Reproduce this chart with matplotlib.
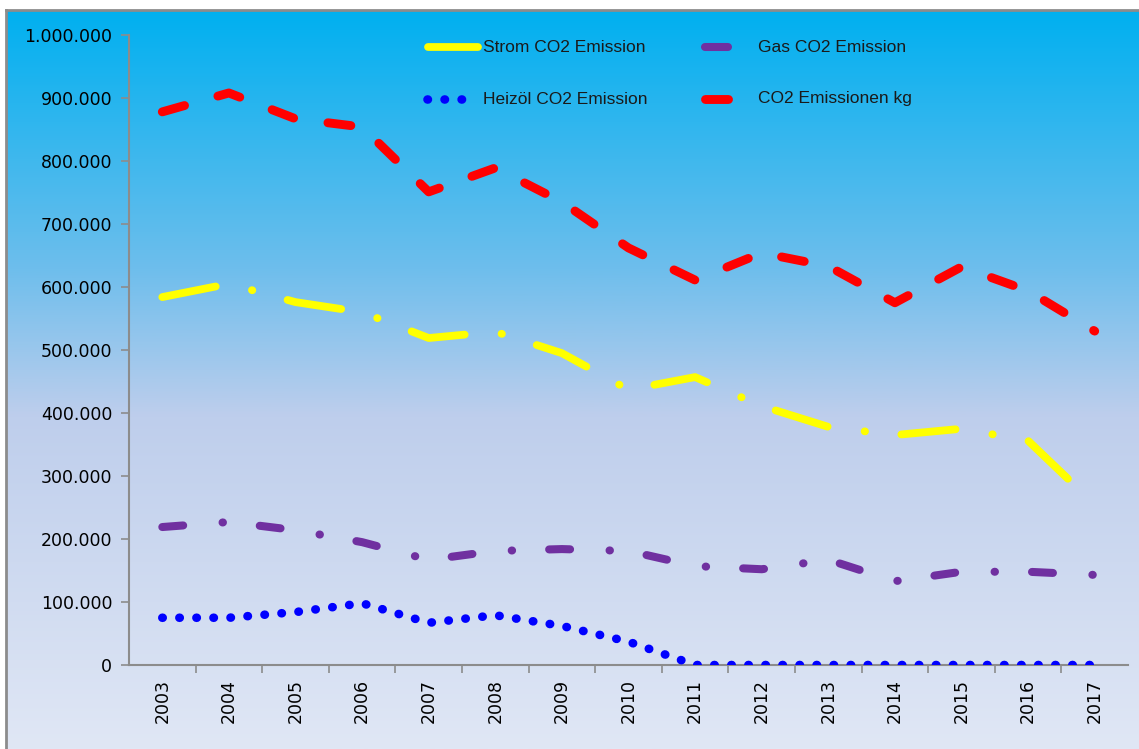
import matplotlib.pyplot as plt
import numpy as np
from matplotlib.colors import LinearSegmentedColormap
from matplotlib.lines import Line2D
from matplotlib.ticker import FuncFormatter, FixedLocator, NullFormatter

plt.rcParams['font.family'] = ['DejaVu Sans']

years = ['2003', '2004', '2005', '2006', '2007', '2008', '2009', '2010',
         '2011', '2012', '2013', '2014', '2015', '2016', '2017']

strom = [584000, 605000, 576000, 560000, 519000, 529000, 495000, 437000,
         457000, 411000, 378000, 365000, 375000, 356000, 255000]
gas = [219000, 227000, 214000, 195000, 167000, 181000, 184000, 181000,
       157000, 152000, 167000, 133000, 148000, 148000, 143000]
heizoel = [75000, 75000, 84000, 98000, 67000, 79000, 62000, 37000,
           0, 0, 0, 0, 0, 0, 0]
gesamt = [878000, 908000, 867000, 854000, 751000, 789000, 735000, 662000,
          611000, 654000, 633000, 575000, 632000, 594000, 530000]

labels = ['Strom CO2 Emission', 'Gas CO2 Emission',
          'Heizöl CO2 Emission', 'CO2 Emissionen kg']

W, H = 1139, 749
fig = plt.figure(figsize=(W / 100, H / 100), dpi=100)
fig.patch.set_facecolor('white')

# Hintergrund mit Farbverlauf (oben kräftig blau, unten hell)
bg = fig.add_axes([6 / W, 0, 1 - 6 / W, (H - 10) / H], zorder=0)
cmap = LinearSegmentedColormap.from_list('bg', [
    (0.0, (0 / 255, 176 / 255, 240 / 255)),
    (0.35, (110 / 255, 190 / 255, 236 / 255)),
    (0.55, (190 / 255, 206 / 255, 236 / 255)),
    (1.0, (224 / 255, 231 / 255, 245 / 255))])
grad = np.linspace(0, 1, 256).reshape(-1, 1)
bg.imshow(grad, aspect='auto', cmap=cmap, extent=[0, 1, 0, 1], origin='upper')
bg.set_xlim(0, 1)
bg.set_ylim(0, 1)
bg.axis('off')
fig.add_artist(Line2D([6 / W, 6 / W], [0, (H - 10) / H], color='#8c8c8c', lw=2))
fig.add_artist(Line2D([6 / W, 1], [(H - 10) / H, (H - 10) / H], color='#8c8c8c', lw=2))

ax = fig.add_axes([129 / W, (H - 665) / H, 999 / W, 630 / H], zorder=1)
ax.patch.set_alpha(0)

x = np.arange(len(years))

# Linien: Dash-Muster in Vielfachen der Linienbreite
ax.plot(x, strom, color='#ffff00', lw=5.6, dash_capstyle='round',
        solid_capstyle='round', dashes=(7.0, 4.8, 0.05, 4.7), zorder=3)
ax.plot(x, gas, color='#7030a0', lw=5.8, dash_capstyle='round',
        dashes=(2.6, 4.9, 0.05, 4.6), zorder=3)
ax.plot(x, heizoel, color='#0000ff', lw=6.2, dash_capstyle='round',
        dashes=(0.05, 1.93), zorder=3)
ax.plot(x, gesamt, color='#ff0000', lw=6.4, dash_capstyle='round',
        dashes=(2.6, 3.9), zorder=3)

ax.set_xlim(-0.5, len(years) - 0.5)
ax.set_ylim(0, 1000000)
ax.set_yticks(np.arange(0, 1000001, 100000))
ax.yaxis.set_major_formatter(FuncFormatter(
    lambda v, p: '0' if v == 0 else f'{int(v):,}'.replace(',', '.')))

ax.set_xticks(x)
ax.set_xticklabels(years, rotation=90, fontsize=12.5)
ax.xaxis.set_minor_locator(FixedLocator(np.arange(0.5, len(years) - 0.5, 1)))
ax.xaxis.set_minor_formatter(NullFormatter())
ax.tick_params(axis='x', which='major', length=0, pad=10)
ax.tick_params(axis='x', which='minor', length=6, color='#8c8c8c', width=1.2)
ax.tick_params(axis='y', length=6, color='#8c8c8c', width=1.2,
               labelsize=12.5, pad=6)

for s in ['top', 'right']:
    ax.spines[s].set_visible(False)
for s in ['left', 'bottom']:
    ax.spines[s].set_color('#8c8c8c')
    ax.spines[s].set_linewidth(1.5)

# Legende, von Hand gesetzt
def fy(py):
    return 1 - py / H

leg_font = dict(fontsize=12.5, family='Liberation Sans', va='center', color='#1a1a1a')
fig.add_artist(Line2D([428 / W, 478 / W], [fy(47)] * 2, color='#ffff00',
                      lw=5.6, solid_capstyle='round'))
fig.text(483 / W, fy(47), labels[0], **leg_font)
fig.add_artist(Line2D([705 / W, 728 / W], [fy(47)] * 2, color='#7030a0',
                      lw=5.8, solid_capstyle='round'))
fig.text(758 / W, fy(47), labels[1], **leg_font)
fig.add_artist(Line2D([427 / W, 473 / W], [fy(99)] * 2, color='#0000ff',
                      lw=6.2, dash_capstyle='round', dashes=(0.05, 1.93)))
fig.text(483 / W, fy(99), labels[2], **leg_font)
fig.add_artist(Line2D([705 / W, 728 / W], [fy(99)] * 2, color='#ff0000',
                      lw=6.4, solid_capstyle='round'))
fig.text(758 / W, fy(99), labels[3], **leg_font)

fig.savefig('out.png', dpi=100)
